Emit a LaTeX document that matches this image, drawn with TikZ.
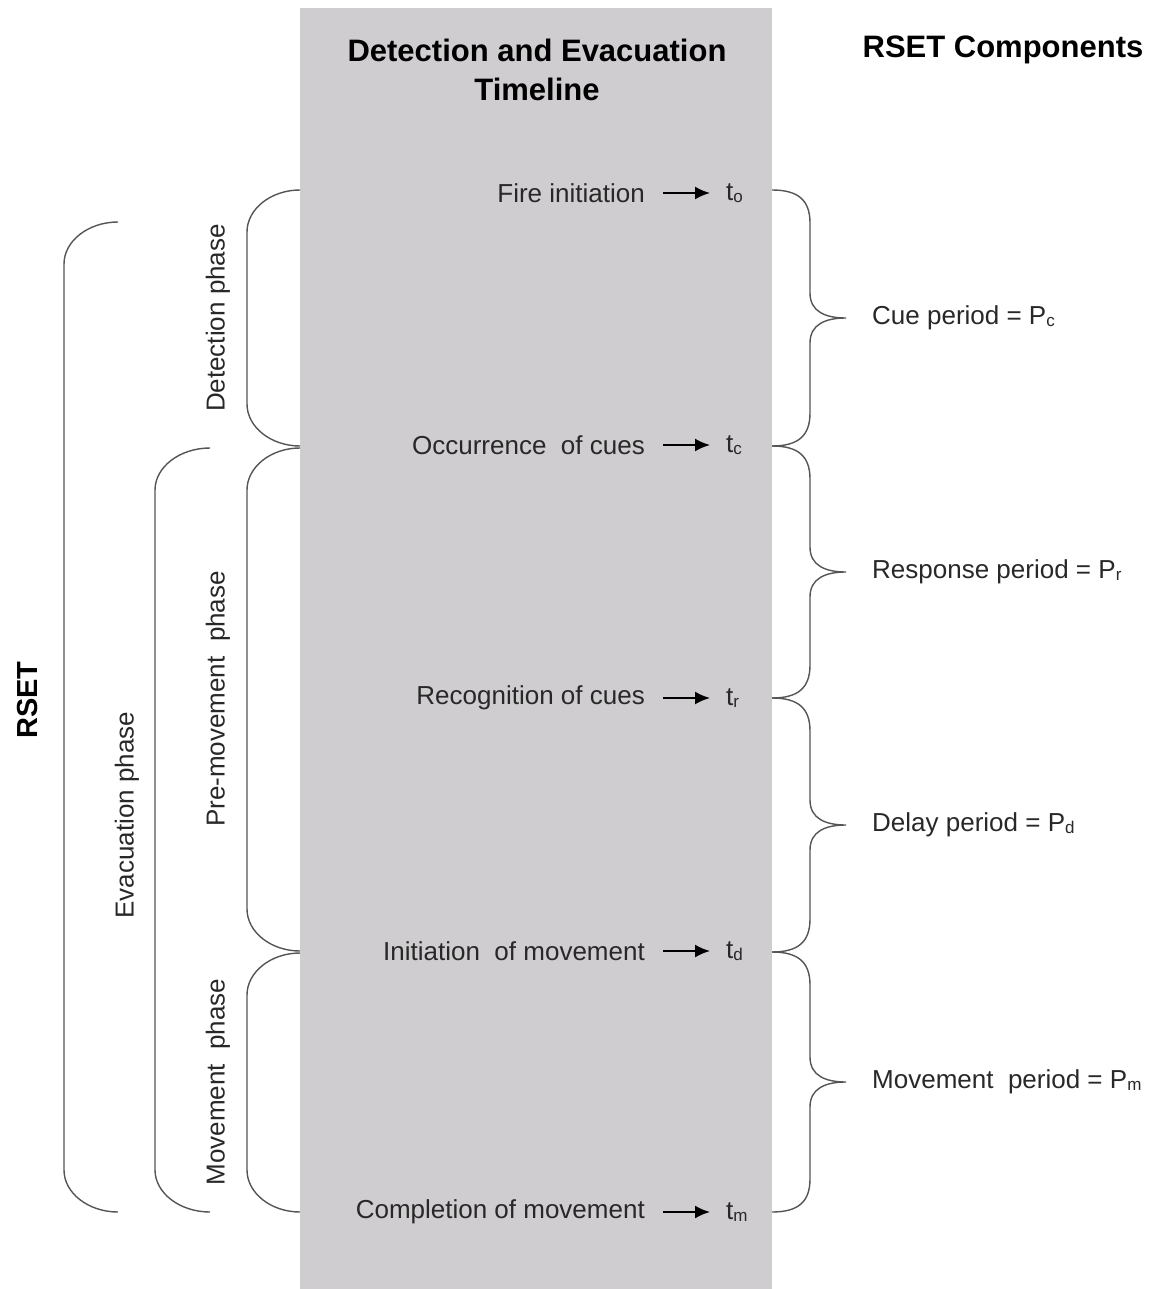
\documentclass[tikz,border=0pt]{standalone}
\usepackage{fontspec}
\setmainfont{Liberation Sans}
\usetikzlibrary{arrows.meta}
\definecolor{panelgray}{RGB}{207,205,207}
\definecolor{inkgray}{RGB}{40,40,40}
\definecolor{linegray}{RGB}{85,85,85}
% small letter after t and P
\newcommand{\tsub}[1]{\raisebox{-1.5pt}{\fontsize{17}{17}\selectfont #1}}
% curly brace right of the panel, from y #1 to y #2
\newcommand{\periodbrace}[2]{%
  \draw[brace] (772,#1) .. controls (798,#1) and (810,{#1+10}) .. (810,{#1+33})
    -- (810,{(#1+#2)/2-25}) .. controls (810,{(#1+#2)/2-6}) and (826,{(#1+#2)/2}) .. (846,{(#1+#2)/2})
    .. controls (826,{(#1+#2)/2}) and (810,{(#1+#2)/2+6}) .. (810,{(#1+#2)/2+25})
    -- (810,{#2-33}) .. controls (810,{#2-10}) and (798,#2) .. (772,#2);}
% round bracket left of the panel: end x, vertical x, top y, bottom y
\newcommand{\phasebrace}[4]{%
  \draw[brace] (#1,#3) .. controls ({#2+0.45*(#1-#2)},#3) and (#2,{#3+19}) .. (#2,{#3+42})
    -- (#2,{#4-42}) .. controls (#2,{#4-19}) and ({#2+0.45*(#1-#2)},#4) .. (#1,#4);}
\begin{document}
\begin{tikzpicture}[x=1pt,y=-1pt]
  \tikzstyle{every node}=[inner sep=0pt,text=inkgray]
  \tikzstyle{event}=[anchor=east,font=\fontsize{26}{30}\selectfont]
  \tikzstyle{tlabel}=[anchor=west,font=\fontsize{26}{30}\selectfont]
  \tikzstyle{period}=[anchor=west,font=\fontsize{26}{30}\selectfont]
  \tikzstyle{phase}=[rotate=90,font=\fontsize{26}{30}\selectfont]
  \tikzstyle{title}=[text=black,align=center,font=\fontsize{31}{39}\selectfont\bfseries]
  \tikzstyle{brace}=[draw=linegray,line width=1.4pt]
  \tikzstyle{pointer}=[-{Latex[length=15pt,width=13pt]},line width=2pt,black,shorten <=18pt,shorten >=16pt]
  \useasboundingbox (0,0) rectangle (1159,1289);
  \fill[panelgray] (300,8) rectangle (772,1289);

  \node[title] (timeline) at (537,70) {Detection and Evacuation\\Timeline};
  \node[title] (components) at (1003,50) {RSET Components};

  \node[event] (fire) at (645,193) {Fire initiation};
  \node[event] (occur) at (645,445) {Occurrence\ \ of cues};
  \node[event] (recog) at (645,698) {Recognition of cues};
  \node[event] (init) at (645,951) {Initiation\ \ of movement};
  \node[event] (compl) at (645,1212) {Completion of movement};

  \node[tlabel] (to) at (726,193) {t\tsub{o}};
  \node[tlabel] (tc) at (726,445) {t\tsub{c}};
  \node[tlabel] (tr) at (726,698) {t\tsub{r}};
  \node[tlabel] (td) at (726,951) {t\tsub{d}};
  \node[tlabel] (tm) at (726,1212) {t\tsub{m}};

  \draw[pointer] (fire) -- (to);
  \draw[pointer] (occur) -- (tc);
  \draw[pointer] (recog) -- (tr);
  \draw[pointer] (init) -- (td);
  \draw[pointer] (compl) -- (tm);

  \periodbrace{190}{446}
  \periodbrace{446}{698}
  \periodbrace{698}{952}
  \periodbrace{952}{1212}

  \node[period] (cue) at (872,318) {Cue period = P\tsub{c}};
  \node[period] (resp) at (872,572) {Response period = P\tsub{r}};
  \node[period] (delay) at (872,825) {Delay period = P\tsub{d}};
  \node[period] (move) at (872,1082) {Movement\ \ period = P\tsub{m}};

  \phasebrace{300}{247}{190}{446}
  \phasebrace{300}{247}{448}{951}
  \phasebrace{300}{247}{953}{1212}
  \phasebrace{210}{155}{448}{1212}
  \phasebrace{118}{64}{222}{1212}

  \node[phase] (detect) at (218,318) {Detection phase};
  \node[phase] (premove) at (218,699) {Pre-movement\ \ phase};
  \node[phase] (movephase) at (218,1082) {Movement\ \ phase};
  \node[phase] (evac) at (127,815) {Evacuation phase};
  \node[phase,text=black,font=\fontsize{29}{32}\selectfont\bfseries] (rset) at (28,700) {RSET};
\end{tikzpicture}
\end{document}
